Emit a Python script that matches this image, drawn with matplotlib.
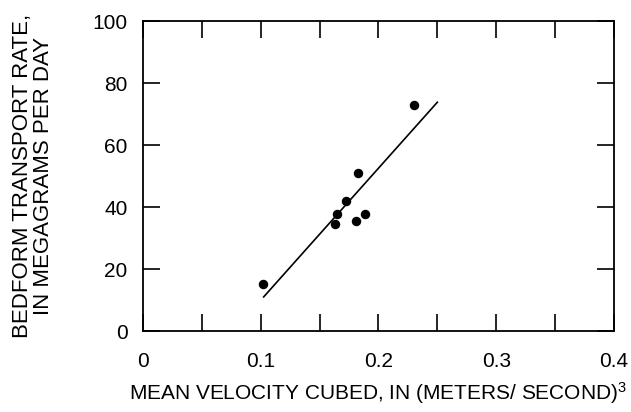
import matplotlib
matplotlib.use("Agg")
import matplotlib.pyplot as plt
from matplotlib.ticker import MultipleLocator

plt.rcParams['font.family'] = ['Liberation Sans', 'DejaVu Sans']
plt.rcParams['mathtext.fontset'] = 'custom'
plt.rcParams['mathtext.rm'] = 'Liberation Sans'
plt.rcParams['mathtext.it'] = 'Liberation Sans'

velocity_cubed = [0.1022, 0.1628, 0.1645, 0.1724, 0.1806, 0.1829, 0.1883, 0.2304]
transport_rate = [15.3, 34.4, 37.6, 42.0, 35.4, 51.1, 37.8, 72.8]
fit_x = [0.1025, 0.2500]
fit_y = [11.0, 73.8]
x_ticks = [0, 0.1, 0.2, 0.3, 0.4]
x_ticklabels = ['0', '0.1', '0.2', '0.3', '0.4']

fig = plt.figure(figsize=(6.31, 4.12), dpi=100)
ax = fig.add_axes([0.2266, 0.1966, 0.973 - 0.2266, 0.949 - 0.1966])
ax.plot(velocity_cubed, transport_rate, 'o', color='black', markersize=5.8)
ax.plot(fit_x, fit_y, '-', color='black', linewidth=1.2)

ax.set_xlim(0, 0.4)
ax.set_ylim(0, 100)
ax.set_xticks(x_ticks)
ax.set_xticklabels(x_ticklabels)
ax.xaxis.set_minor_locator(MultipleLocator(0.05))
ax.yaxis.set_major_locator(MultipleLocator(20))
ax.tick_params(which='both', direction='in', length=12, width=1.2,
               top=True, right=True, labelsize=15)
ax.tick_params(axis='x', pad=15)
ax.tick_params(axis='y', pad=11)
for s in ax.spines.values():
    s.set_linewidth(1.3)

ax.set_xlabel(r'MEAN VELOCITY CUBED, IN (METERS/ SECOND)$^{3}$', fontsize=15, labelpad=7)
ax.set_ylabel('BEDFORM TRANSPORT RATE,\nIN MEGAGRAMS PER DAY', fontsize=16, labelpad=28,
              linespacing=1.0)

fig.savefig('out.png', dpi=100)
